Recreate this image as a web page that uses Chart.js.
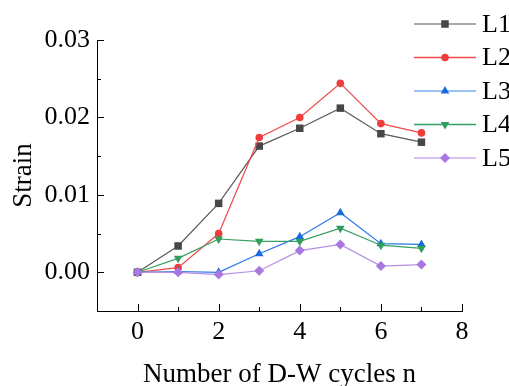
<!DOCTYPE html>
<html>
<head>
<meta charset="utf-8">
<script src="https://cdn.jsdelivr.net/npm/chart.js@4/dist/chart.umd.min.js"></script>
<style>
  html, body { margin: 0; padding: 0; background: #fff; }
  #wrap { width: 509px; height: 386px; }
</style>
</head>
<body>
<div id="wrap"><canvas id="strainChart" width="509" height="386"></canvas></div>
<script>
// Number of D-W cycles
const cycles = [0, 1, 2, 3, 4, 5, 6, 7];

// Strain per measuring line
const strainL1 = [0.0000, 0.0034, 0.0089, 0.0163, 0.0186, 0.0212, 0.0179, 0.0168];
const strainL2 = [0.0000, 0.0006, 0.0050, 0.0174, 0.0200, 0.0244, 0.0192, 0.0180];
const strainL3 = [0.0000, 0.0001, 0.0000, 0.0024, 0.0046, 0.0077, 0.0037, 0.0036];
const strainL4 = [0.0000, 0.0018, 0.0043, 0.0040, 0.0040, 0.0057, 0.0035, 0.0031];
const strainL5 = [0.0000, 0.0000, -0.0003, 0.0002, 0.0028, 0.0036, 0.0008, 0.0010];

const seriesNames = ["L1", "L2", "L3", "L4", "L5"];

// Axis ticks
const xMajorTicks = [0, 2, 4, 6, 8];
const xMinorTicks = [-1, 1, 3, 5, 7];
const yMajorTicks = [0.00, 0.01, 0.02, 0.03];
const yMinorTicks = [-0.005, 0.005, 0.015, 0.025];

const serif = "'Liberation Serif', 'Times New Roman', serif";

function toPoints(arr) {
  return arr.map((v, i) => ({ x: cycles[i], y: v }));
}

const datasets = [
  { label: seriesNames[0], data: toPoints(strainL1), borderColor: "#5a5a5a", pointBackgroundColor: "#474747",
    pointBorderColor: "#474747", pointStyle: "rect", pointRadius: 5.3, legendLine: "#8c8c8c", order: 5 },
  { label: seriesNames[1], data: toPoints(strainL2), borderColor: "#f04a4a", pointBackgroundColor: "#ef3d3d",
    pointBorderColor: "#ef3d3d", pointStyle: "circle", pointRadius: 3.8, legendLine: "#f04a4a", order: 4 },
  { label: seriesNames[2], data: toPoints(strainL3), borderColor: "#2a78e4", pointBackgroundColor: "#1a6ae0",
    pointBorderColor: "#1a6ae0", pointStyle: "triangle", pointRadius: 5, legendLine: "#7aaef0", order: 3 },
  { label: seriesNames[3], data: toPoints(strainL4), borderColor: "#33a160", pointBackgroundColor: "#2e9e5a",
    pointBorderColor: "#2e9e5a", pointStyle: "triangle", pointRotation: 180, pointRadius: 5, legendLine: "#33a160", order: 2 },
  { label: seriesNames[4], data: toPoints(strainL5), borderColor: "#b58ee6", pointBackgroundColor: "#a878e0",
    pointBorderColor: "#a878e0", pointStyle: "rectRot", pointRadius: 5, legendLine: "#c9aef0", order: 1 }
];
datasets.forEach(d => { d.borderWidth = 1.2; d.pointBorderWidth = 0; d.tension = 0; d.fill = false; });

// Inward ticks, drawn on the axes
const tickPlugin = {
  id: "inwardTicks",
  afterDraw(chart) {
    const ctx = chart.ctx;
    const xs = chart.scales.x, ys = chart.scales.y;
    const area = chart.chartArea;
    ctx.save();
    ctx.strokeStyle = "#000";
    ctx.lineWidth = 1;
    ctx.beginPath();
    xMajorTicks.forEach(v => { const p = Math.round(xs.getPixelForValue(v)) + 0.5; ctx.moveTo(p, area.bottom); ctx.lineTo(p, area.bottom - 7); });
    xMinorTicks.forEach(v => { const p = Math.round(xs.getPixelForValue(v)) + 0.5; ctx.moveTo(p, area.bottom); ctx.lineTo(p, area.bottom - 4); });
    yMajorTicks.forEach(v => { const p = Math.round(ys.getPixelForValue(v)) + 0.5; ctx.moveTo(area.left, p); ctx.lineTo(area.left + 7, p); });
    yMinorTicks.forEach(v => { const p = Math.round(ys.getPixelForValue(v)) + 0.5; ctx.moveTo(area.left, p); ctx.lineTo(area.left + 4, p); });
    ctx.stroke();
    ctx.restore();
  }
};

// Legend at the top right, over the plot
const legendPlugin = {
  id: "sideLegend",
  afterDraw(chart) {
    const ctx = chart.ctx;
    ctx.save();
    chart.data.datasets.forEach((ds, i) => {
      const y = 24 + i * 33.5;
      ctx.strokeStyle = ds.legendLine;
      ctx.lineWidth = 1.5;
      ctx.beginPath();
      ctx.moveTo(414, y);
      ctx.lineTo(476, y);
      ctx.stroke();
      ctx.fillStyle = ds.pointBackgroundColor;
      Chart.helpers.drawPoint(ctx, {
        pointStyle: ds.pointStyle, rotation: ds.pointRotation || 0,
        radius: ds.pointRadius, borderWidth: 0
      }, 445, y);
      ctx.fillStyle = "#000";
      ctx.font = "26px " + serif;
      ctx.textAlign = "left";
      ctx.textBaseline = "middle";
      ctx.fillText(ds.label, 482, y + 1);
    });
    ctx.restore();
  }
};

new Chart(document.getElementById("strainChart"), {
  type: "line",
  data: { datasets },
  options: {
    responsive: false,
    animation: false,
    layout: { padding: { top: 40, right: 47, left: 0, bottom: 0 } },
    plugins: { legend: { display: false }, tooltip: { enabled: false } },
    scales: {
      x: {
        type: "linear",
        min: -1, max: 8,
        afterFit: s => { s.height = 75; },
        afterBuildTicks: s => { s.ticks = xMajorTicks.map(v => ({ value: v })); },
        grid: { display: false, drawTicks: false },
        border: { display: true, color: "#000", width: 1 },
        ticks: { color: "#000", font: { family: serif, size: 26 }, padding: 6, maxRotation: 0 },
        title: { display: true, text: "Number of D-W cycles n", color: "#000",
                 font: { family: serif, size: 27, lineHeight: 0.85 }, padding: { top: 6, bottom: 0 } }
      },
      y: {
        min: -0.005, max: 0.03,
        afterFit: s => { s.width = 97; },
        afterBuildTicks: s => { s.ticks = yMajorTicks.map(v => ({ value: v })); },
        grid: { display: false, drawTicks: false },
        border: { display: true, color: "#000", width: 1 },
        ticks: { color: "#000", font: { family: serif, size: 26 }, padding: 7,
                 callback: v => v.toFixed(2) },
        title: { display: true, text: "Strain", color: "#000",
                 font: { family: serif, size: 27 }, padding: { top: 8, bottom: 0 } }
      }
    }
  },
  plugins: [tickPlugin, legendPlugin]
});
</script>
</body>
</html>
